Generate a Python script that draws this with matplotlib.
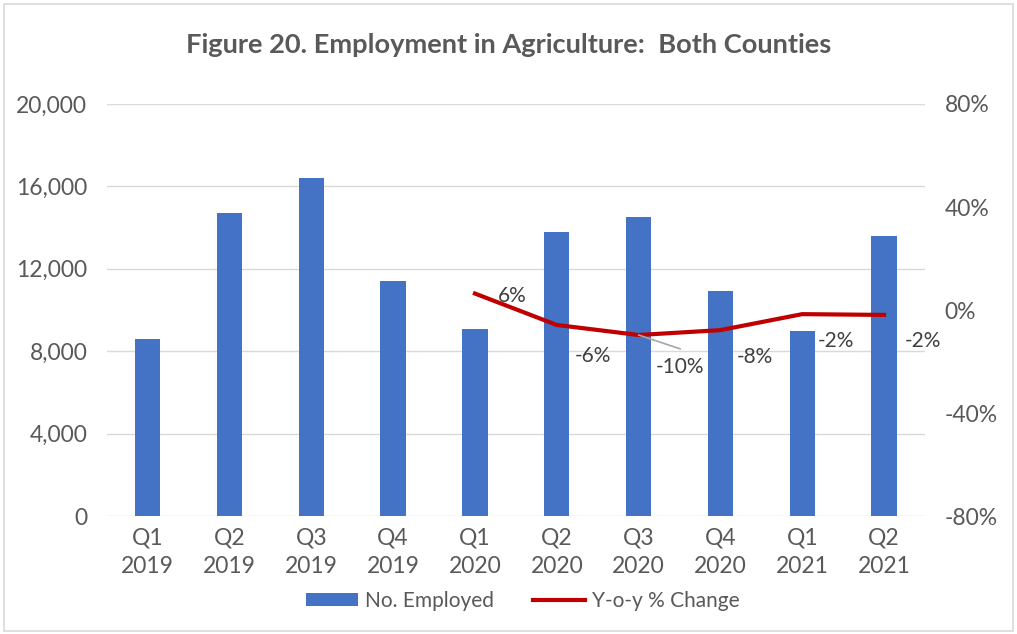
import numpy as np
import matplotlib.pyplot as plt
from matplotlib.patches import Rectangle
from matplotlib.ticker import FuncFormatter, PercentFormatter

quarters = ["Q1\n2019", "Q2\n2019", "Q3\n2019", "Q4\n2019", "Q1\n2020",
            "Q2\n2020", "Q3\n2020", "Q4\n2020", "Q1\n2021", "Q2\n2021"]
employed = [8600, 14700, 16400, 11400, 9100, 13800, 14500, 10900, 9000, 13600]
# year-over-year change only exists from Q1 2020 onward
yoy_idx = [4, 5, 6, 7, 8, 9]
yoy = [0.064, -0.058, -0.097, -0.078, -0.016, -0.019]
# label offsets in points (dx, dy)
yoy_offsets = [(27, -1.5), (26, -22), (30, -23), (24.5, -19), (24.5, -19), (28, -19)]

grey = "#595959"
plt.rcParams["font.family"] = ["Lato", "DejaVu Sans"]
plt.rcParams["axes.unicode_minus"] = False

fig = plt.figure(figsize=(10.17, 6.34), dpi=100)
fig.patches.append(Rectangle((0.004, 0.004), 0.992, 0.99, transform=fig.transFigure,
                             fill=False, edgecolor="#d9d9d9", lw=1.2))
ax = fig.add_axes([0.105, 0.186, 0.8045, 0.65])
ax2 = ax.twinx()

x = np.arange(len(quarters))
ax.bar(x, employed, width=0.31, color="#4472c4", zorder=2, label="No. Employed")
ax.set_xlim(-0.5, len(quarters) - 0.5)
ax.set_ylim(0, 20000)
ax.set_yticks(np.arange(0, 20001, 4000))
ax.yaxis.set_major_formatter(FuncFormatter(lambda v, p: f"{v:,.0f}"))
ax.grid(axis="y", color="#d9d9d9", lw=1, zorder=0)
ax.set_xticks(x)
ax.set_xticklabels(quarters, linespacing=1.45)

ax2.plot(x[yoy_idx], yoy, color="#c00000", lw=3, zorder=3, label="Y-o-y % Change")
ax2.set_ylim(-0.8, 0.8)
ax2.set_yticks(np.arange(-0.8, 0.81, 0.4))
ax2.yaxis.set_major_formatter(PercentFormatter(1.0, decimals=0))

for i, v, (dx, dy) in zip(yoy_idx, yoy, yoy_offsets):
    ax2.annotate(f"{v:.0%}", (i, v), xytext=(dx, dy), textcoords="offset points",
                 ha="center", va="center", fontsize=15, color="#404040")
# leader line for the Q3 2020 label
ax2.annotate("", (6, yoy[2]), xytext=(30, -10), textcoords="offset points",
             arrowprops=dict(arrowstyle="-", color="#a6a6a6", lw=1.2,
                             shrinkA=0, shrinkB=0))

for a in (ax, ax2):
    for s in a.spines.values():
        s.set_visible(False)
    a.tick_params(length=0, colors=grey, labelsize=16.5, pad=14)
ax.tick_params(axis="x", pad=8)

fig.suptitle("Figure 20. Employment in Agriculture:  Both Counties", y=0.929, va="center",
             fontsize=19.6, fontweight="bold", color=grey)

h1, l1 = ax.get_legend_handles_labels()
h2, l2 = ax2.get_legend_handles_labels()
fig.legend(h1 + h2, l1 + l2, loc="center", bbox_to_anchor=(0.514, 0.052), ncol=2,
           frameon=False, fontsize=15, labelcolor=grey, handlelength=2.5,
           handletextpad=0.3, columnspacing=1.9, handleheight=0.6)

fig.savefig("out.png", dpi=100)
